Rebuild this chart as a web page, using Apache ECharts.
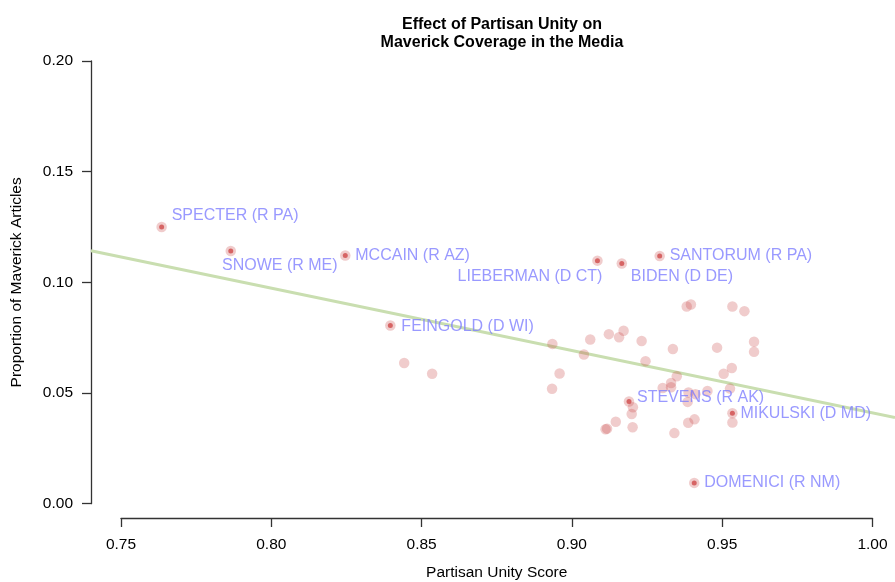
<!DOCTYPE html>
<html>
<head>
<meta charset="utf-8">
<title>Effect of Partisan Unity on Maverick Coverage in the Media</title>
<script src="https://cdn.jsdelivr.net/npm/echarts@6/dist/echarts.min.js"></script>
<style>
  html, body { margin: 0; padding: 0; background: #fff; }
  #chart { width: 895px; height: 582px; }
</style>
</head>
<body>
<div id="chart"></div>
<script>
// labelled senators
var senators = ['SPECTER (R PA)', 'SNOWE (R ME)', 'MCCAIN (R AZ)', 'FEINGOLD (D WI)',
  'LIEBERMAN (D CT)', 'BIDEN (D DE)', 'SANTORUM (R PA)', 'STEVENS (R AK)',
  'MIKULSKI (D MD)', 'DOMENICI (R NM)'];
var senatorX = [0.7635, 0.7865, 0.8246, 0.8396, 0.9085, 0.9166, 0.9292, 0.9190, 0.9534, 0.9407];
var senatorY = [0.1250, 0.1142, 0.1121, 0.0805, 0.1098, 0.1085, 0.1119, 0.0462, 0.0409, 0.0094];

// the rest of the senate
var otherX = [0.9382, 0.9396, 0.9534, 0.9574, 0.8935, 0.9061, 0.9123, 0.9157, 0.9172, 0.9232,
  0.9336, 0.9483, 0.9606, 0.9606, 0.9040, 0.9245, 0.8959, 0.8934, 0.9532, 0.9505,
  0.9349, 0.9330, 0.9330, 0.9302, 0.9388, 0.9411, 0.9451, 0.9526, 0.9385, 0.9203,
  0.9199, 0.9202, 0.9146, 0.9112, 0.9117, 0.9387, 0.9408, 0.9341, 0.9534, 0.8442, 0.8535];
var otherY = [0.0891, 0.0900, 0.0891, 0.0870, 0.0722, 0.0742, 0.0766, 0.0752, 0.0781, 0.0735,
  0.0699, 0.0705, 0.0732, 0.0686, 0.0674, 0.0644, 0.0588, 0.0519, 0.0613, 0.0587,
  0.0576, 0.0545, 0.0526, 0.0523, 0.0502, 0.0495, 0.0509, 0.0520, 0.0460, 0.0436,
  0.0405, 0.0345, 0.0370, 0.0336, 0.0339, 0.0366, 0.0381, 0.0319, 0.0367, 0.0636, 0.0587];

// fitted line, read at both edges of the plot
var fitX = [0.74, 1.0075];
var fitY = [0.1143, 0.0389];

// where each name sits relative to its point
var labelNudge = {
  'SPECTER (R PA)': [0, -11],
  'SNOWE (R ME)': [-18.7, 15],
  'LIEBERMAN (D CT)': [-5, 16, 'right'],
  'BIDEN (D DE)': [-1, 13],
  'STEVENS (R AK)': [-2, -4],
  'MIKULSKI (D MD)': [-2, 0],
  'FEINGOLD (D WI)': [1, 1]
};

var FONT = '"Liberation Sans", Arial, Helvetica, sans-serif';
var pink = 'rgba(200,70,70,0.34)';

function pairs(xs, ys) {
  return xs.map(function (x, i) { return [x, ys[i]]; });
}

var labelled = senators.map(function (name, i) {
  var n = labelNudge[name] || [0, 0];
  return {
    name: name,
    value: [senatorX[i], senatorY[i]],
    label: { offset: [n[0], n[1]], align: n[2] || 'left' }
  };
});

var myChart = echarts.init(document.getElementById('chart'));
var option = {
  animation: false,
  backgroundColor: '#fff',
  title: {
    text: 'Effect of Partisan Unity on\nMaverick Coverage in the Media',
    left: 497,
    top: 10,
    textAlign: 'center',
    textStyle: { fontFamily: FONT, fontSize: 16, fontWeight: 'bold', color: '#000', lineHeight: 18.5 }
  },
  grid: [
    { left: 91, top: 61, width: 804, height: 442.7 },
    { left: 121, top: 503.7, width: 751.5, height: 18.3 }
  ],
  xAxis: [
    { gridIndex: 0, type: 'value', min: 0.74, max: 1.0075, show: false },
    {
      gridIndex: 1, type: 'value', min: 0.75, max: 1.0, interval: 0.05, position: 'bottom',
      name: 'Partisan Unity Score', nameLocation: 'middle', nameGap: 47,
      nameTextStyle: { fontFamily: FONT, fontSize: 15.5, color: '#000' },
      axisLine: { lineStyle: { color: '#333', width: 1.3 } },
      axisTick: { length: 9, lineStyle: { color: '#333', width: 1.3 } },
      splitLine: { show: false },
      axisLabel: {
        fontFamily: FONT, fontSize: 15.5, color: '#000', margin: 19,
        formatter: function (v) { return v.toFixed(2); }
      }
    }
  ],
  yAxis: [
    {
      gridIndex: 0, type: 'value', min: 0, max: 0.2, interval: 0.05,
      name: 'Proportion of Maverick Articles', nameLocation: 'middle', nameGap: 66,
      nameTextStyle: { fontFamily: FONT, fontSize: 15.5, color: '#000' },
      axisLine: { show: true, lineStyle: { color: '#333', width: 1.3 } },
      axisTick: { show: true, length: 9, lineStyle: { color: '#333', width: 1.3 } },
      splitLine: { show: false },
      axisLabel: {
        fontFamily: FONT, fontSize: 15.5, color: '#000', margin: 18,
        formatter: function (v) { return v.toFixed(2); }
      }
    },
    { gridIndex: 1, type: 'value', show: false }
  ],
  series: [
    {
      type: 'line', xAxisIndex: 0, yAxisIndex: 0,
      data: pairs(fitX, fitY), symbol: 'none', silent: true,
      lineStyle: { color: '#c9deb0', width: 3 }, z: 1
    },
    {
      type: 'scatter', xAxisIndex: 0, yAxisIndex: 0,
      data: pairs(otherX, otherY), symbolSize: 10.5,
      itemStyle: { color: pink }, z: 2
    },
    {
      type: 'scatter', xAxisIndex: 0, yAxisIndex: 0,
      data: pairs(senatorX, senatorY), symbolSize: 10.5,
      itemStyle: { color: pink }, z: 3
    },
    {
      type: 'scatter', xAxisIndex: 0, yAxisIndex: 0,
      data: labelled, symbolSize: 5,
      itemStyle: { color: '#d04a4a' }, z: 4,
      label: {
        show: true, position: 'right', distance: 7.5,
        formatter: '{b}', fontFamily: FONT, fontSize: 16, color: '#8080ff'
      }
    }
  ]
};
myChart.setOption(option, true);
</script>
</body>
</html>
